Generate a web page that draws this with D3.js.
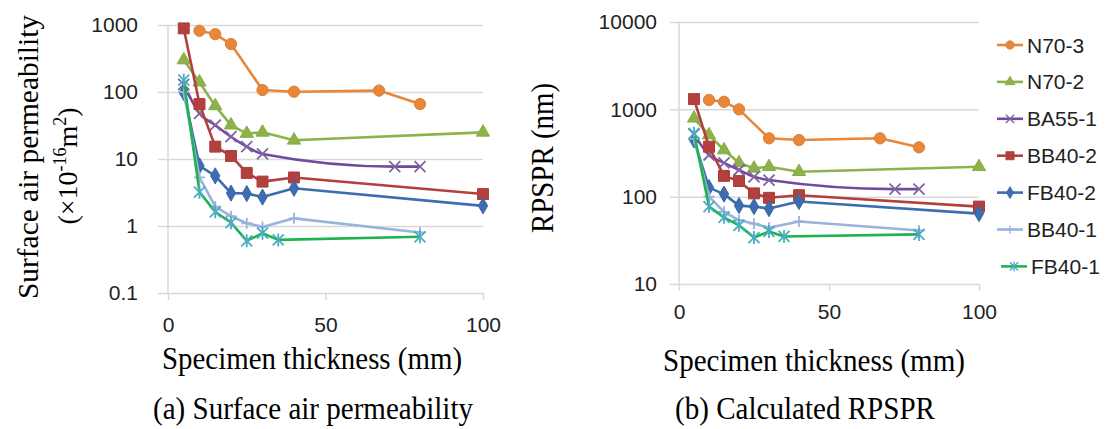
<!DOCTYPE html>
<html>
<head>
<meta charset="utf-8">
<script src="https://cdn.jsdelivr.net/npm/d3@7"></script>
<style>
  body { margin: 0; background: #fff; }
  svg { display: block; }
</style>
</head>
<body>
<div id="chart"></div>
<script>
// series names, in legend order
var seriesNames = ["N70-3", "N70-2", "BA55-1", "BB40-2", "FB40-2", "BB40-1", "FB40-1"];

// specimen thickness (mm) for each series
var xN70_3 = [10, 15, 20, 30, 40, 67, 80];
var xN70_2 = [5, 10, 15, 20, 25, 30, 40, 100];
var xBA55_1 = [5, 10, 15, 20, 25, 30, 72, 80];
var xBB40_2 = [5, 10, 15, 20, 25, 30, 40, 100];
var xFB40_2 = [5, 10, 15, 20, 25, 30, 40, 100];
var xBB40_1 = [5, 10, 15, 20, 25, 30, 40, 80];
var xFB40_1 = [5, 10, 15, 20, 25, 30, 35, 80];

// (a) surface air permeability (x10^-16 m2)
var permN70_3 = [820, 730, 520, 107, 101, 105, 66];
var permN70_2 = [300, 140, 62, 32, 24, 25, 19, 25];
var permBA55_1 = [130, 48, 32, 21.5, 15.3, 11.9, 7.7, 7.7];
var permBB40_2 = [890, 66, 15.3, 11.1, 6.2, 4.6, 5.3, 3.0];
var permFB40_2 = [98, 7.9, 5.6, 3.1, 3.05, 2.7, 3.65, 2.0];
var permBB40_1 = [100, 5.3, 1.95, 1.4, 1.1, 0.97, 1.3, 0.8];
var permFB40_1 = [150, 3.2, 1.63, 1.12, 0.6, 0.78, 0.62, 0.69];

// (b) calculated RPSPR (nm)
var rpsprN70_3 = [1280, 1220, 1000, 466, 445, 466, 367];
var rpsprN70_2 = [790, 508, 342, 244, 211, 220, 193, 220];
var rpsprBA55_1 = [520, 300, 244, 202, 169, 155, 122, 122];
var rpsprBB40_2 = [1310, 373, 173, 151, 109, 97, 104, 77];
var rpsprFB40_2 = [446, 127, 107, 79, 77, 73, 88, 64];
var rpsprBB40_1 = [460, 100, 67, 54, 49, 44, 52, 41];
var rpsprFB40_1 = [531, 77, 58, 47, 34, 40, 35, 37];

var xTicks = [0, 50, 100];
var permTicks = [0.1, 1, 10, 100, 1000];
var rpsprTicks = [10, 100, 1000, 10000];

var thickness = [xN70_3, xN70_2, xBA55_1, xBB40_2, xFB40_2, xBB40_1, xFB40_1];
var perm = [permN70_3, permN70_2, permBA55_1, permBB40_2, permFB40_2, permBB40_1, permFB40_1];
var rpspr = [rpsprN70_3, rpsprN70_2, rpsprBA55_1, rpsprBB40_2, rpsprFB40_2, rpsprBB40_1, rpsprFB40_1];

var styles = {
  "N70-3":  { line: "#e8873a", mark: "#e8873a", shape: "circle" },
  "N70-2":  { line: "#8db348", mark: "#8db348", shape: "triangle" },
  "BA55-1": { line: "#6f4a9e", mark: "#8064a2", shape: "x" },
  "BB40-2": { line: "#b3403d", mark: "#b3403d", shape: "square" },
  "FB40-2": { line: "#3d6db0", mark: "#3d6db0", shape: "diamond" },
  "BB40-1": { line: "#98b3dc", mark: "#98b3dc", shape: "plus" },
  "FB40-1": { line: "#1db34e", mark: "#4bacc6", shape: "star" }
};

var W = 1113, H = 429;
var serif = "'Liberation Serif', 'Times New Roman', serif";
var sans = "'Liberation Sans', Arial, sans-serif";

var svg = d3.select("#chart").append("svg")
  .attr("width", W).attr("height", H)
  .attr("viewBox", "0 0 " + W + " " + H);

function markerPath(shape) {
  var r = 5.5;
  if (shape == "circle") return d3.symbol(d3.symbolCircle, 100)();
  if (shape == "triangle") return d3.symbol(d3.symbolTriangle, 75)();
  if (shape == "square") return d3.symbol(d3.symbolSquare, 120)();
  if (shape == "diamond") return d3.symbol(d3.symbolDiamond, 75)();
  if (shape == "x") return "M" + -r + "," + -r + "L" + r + "," + r + "M" + -r + "," + r + "L" + r + "," + -r;
  if (shape == "plus") return "M" + -r + ",0L" + r + ",0M0," + -r + "L0," + r;
  // asterisk: x plus a vertical bar
  return "M" + -r + "," + -r + "L" + r + "," + r + "M" + -r + "," + r + "L" + r + "," + -r + "M0," + (-r - 1) + "L0," + (r + 1);
}

function isOpen(shape) {
  return shape == "x" || shape == "plus" || shape == "star";
}

function drawMarker(g, shape, color, x, y) {
  var p = g.append("path")
    .attr("d", markerPath(shape))
    .attr("transform", "translate(" + x + "," + y + ")");
  if (isOpen(shape)) {
    p.attr("fill", "none").attr("stroke", color).attr("stroke-width", 1.8);
  } else {
    p.attr("fill", color).attr("stroke", d3.color(color).darker(0.15)).attr("stroke-width", 1);
  }
}

function drawPanel(o) {
  var g = svg.append("g");
  var x = d3.scaleLinear().domain([0, 100]).range([o.x0, o.x1]);
  var y = d3.scaleLog().domain(o.yDomain).range([o.y0, o.y1]);

  // gridlines + y labels
  var yAxis = d3.axisLeft(y).tickValues(o.yTicks).tickFormat(d3.format("")).tickSize(-(o.x1 - o.gridLeft)).tickPadding(o.labelGap);
  var ya = g.append("g").attr("transform", "translate(" + o.gridLeft + ",0)").call(yAxis);
  ya.select(".domain").remove();
  ya.selectAll("line").attr("stroke", "#d9d9d9").attr("stroke-width", 1.5);
  ya.selectAll("text").attr("font-family", sans).attr("font-size", o.tickFont).attr("fill", "#222");

  // x ticks + labels
  var xAxis = d3.axisBottom(x).tickValues(xTicks).tickSize(7).tickPadding(o.xPad);
  var xa = g.append("g").attr("transform", "translate(0," + o.y0 + ")").call(xAxis);
  xa.select(".domain").remove();
  xa.selectAll("line").attr("stroke", "#d9d9d9").attr("stroke-width", 1.5);
  xa.selectAll("text").attr("font-family", sans).attr("font-size", o.tickFont).attr("fill", "#222");

  // vertical axis line
  g.append("line")
    .attr("x1", x(0)).attr("x2", x(0))
    .attr("y1", y(o.yDomain[1])).attr("y2", o.y0)
    .attr("stroke", "#d9d9d9").attr("stroke-width", 1.5);

  seriesNames.forEach(function(name, i) {
    var st = styles[name];
    var pts = thickness[i].map(function(t, j) { return [x(t), y(o.values[i][j])]; });
    var line = d3.line().curve(name == "BA55-1" ? d3.curveMonotoneX : d3.curveLinear);
    g.append("path")
      .attr("d", line(pts))
      .attr("fill", "none")
      .attr("stroke", st.line)
      .attr("stroke-width", 2.6)
      .attr("stroke-linejoin", "round");
    pts.forEach(function(p) { drawMarker(g, st.shape, st.mark, p[0], p[1]); });
  });
}

drawPanel({
  x0: 168, x1: 483, gridLeft: 158, y0: 293, y1: 25,
  yDomain: [0.1, 1000], yTicks: permTicks, values: perm,
  labelGap: 20, tickFont: 21, xPad: 17
});

drawPanel({
  x0: 679, x1: 979, gridLeft: 670, y0: 284, y1: 22,
  yDomain: [10, 10000], yTicks: rpsprTicks, values: rpspr,
  labelGap: 13, tickFont: 21, xPad: 13
});

// axis titles
svg.append("text")
  .attr("transform", "translate(38,157) rotate(-90)")
  .attr("text-anchor", "middle")
  .attr("font-family", serif).attr("font-size", 30)
  .attr("textLength", 284).attr("lengthAdjust", "spacingAndGlyphs")
  .text("Surface air permeability");

var unit = svg.append("text")
  .attr("transform", "translate(77,166) rotate(-90)")
  .attr("text-anchor", "middle")
  .attr("font-family", serif).attr("font-size", 28);
unit.append("tspan").text("(\u00d710");
unit.append("tspan").attr("font-size", 18).attr("dy", -11).text("-16");
unit.append("tspan").attr("dy", 11).text("m");
unit.append("tspan").attr("font-size", 18).attr("dy", -11).text("2");
unit.append("tspan").attr("dy", 11).text(")");

svg.append("text")
  .attr("transform", "translate(553,158) rotate(-90)")
  .attr("text-anchor", "middle")
  .attr("font-family", serif).attr("font-size", 32)
  .attr("textLength", 150).attr("lengthAdjust", "spacingAndGlyphs")
  .text("RPSPR (nm)");

var bottomTexts = [
  { x: 312, y: 369, len: 300, t: "Specimen thickness (mm)" },
  { x: 814, y: 371, len: 302, t: "Specimen thickness (mm)" },
  { x: 313, y: 419, len: 320, t: "(a) Surface air permeability" },
  { x: 805, y: 419, len: 260, t: "(b) Calculated RPSPR" }
];
bottomTexts.forEach(function(d) {
  svg.append("text")
    .attr("x", d.x).attr("y", d.y)
    .attr("text-anchor", "middle")
    .attr("font-family", serif).attr("font-size", 32)
    .attr("textLength", d.len).attr("lengthAdjust", "spacingAndGlyphs")
    .text(d.t);
});

// legend
var legend = svg.append("g");
seriesNames.forEach(function(name, i) {
  var st = styles[name];
  var ly = 45 + i * 36.9;
  var lx = (i == 6) ? 1001 : 997;
  legend.append("line")
    .attr("x1", lx).attr("x2", lx + 26)
    .attr("y1", ly).attr("y2", ly)
    .attr("stroke", st.line).attr("stroke-width", 2.6);
  var mg = legend.append("g");
  drawMarker(mg, st.shape, st.mark, lx + 13, ly);
  mg.attr("transform", "translate(" + (lx + 13) * 0.25 + "," + ly * 0.25 + ") scale(0.75)");
  legend.append("text")
    .attr("x", lx + 30).attr("y", ly)
    .attr("dy", "0.36em")
    .attr("font-family", sans).attr("font-size", 21)
    .attr("fill", "#222")
    .text(name);
});
</script>
</body>
</html>
